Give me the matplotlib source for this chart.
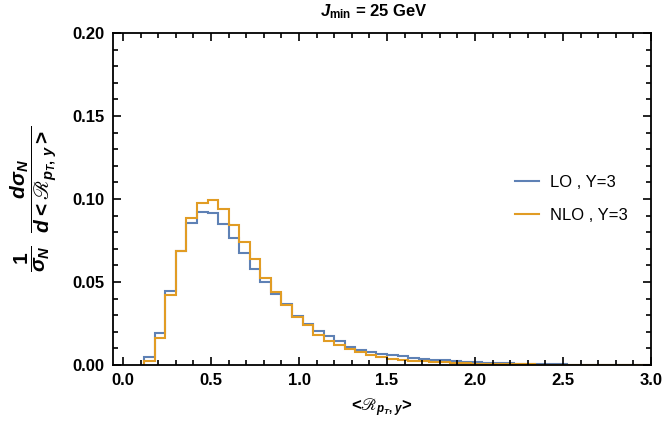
import numpy as np
import matplotlib
matplotlib.use("Agg")
import matplotlib.pyplot as plt
import matplotlib.ticker as ticker

# bin edges: width 0.06, first two bins (0-0.12) empty
BIN_WIDTH = 0.06
BIN_START = 0.12

lo_y3 = [0.0046, 0.0192, 0.0443, 0.0687, 0.0856, 0.0922, 0.0916, 0.0852,
         0.0767, 0.0675, 0.0580, 0.0500, 0.0429, 0.0365, 0.0298, 0.0248,
         0.0203, 0.0173, 0.0143, 0.0110, 0.0090, 0.0080, 0.0068, 0.0062,
         0.0055, 0.0045, 0.0038, 0.0033, 0.0028, 0.0024, 0.0020, 0.0017,
         0.0014, 0.0012, 0.0010, 0.0008, 0.0007, 0.0006, 0.0005, 0.0004,
         0.0003, 0.0003, 0.0002, 0.0002, 0.0001, 0.0001, 0.0001, 0.0001]

nlo_y3 = [0.0024, 0.0161, 0.0423, 0.0687, 0.0884, 0.0977, 0.0992, 0.0939,
          0.0844, 0.0740, 0.0640, 0.0526, 0.0441, 0.0362, 0.0292, 0.0238,
          0.0183, 0.0145, 0.0121, 0.0097, 0.0076, 0.0058, 0.0050, 0.0038,
          0.0032, 0.0026, 0.0022, 0.0019, 0.0016, 0.0013, 0.0011, 0.0009,
          0.0008, 0.0007, 0.0006, 0.0005, 0.0004, 0.0003, 0.0003, 0.0002,
          0.0002, 0.0001, 0.0001, 0.0001, 0.0001, 0.0000, 0.0000, 0.0000]

labels = ["LO , Y=3", "NLO , Y=3"]
colors = ["#5E81B5", "#E19C24"]

plt.rcParams["font.family"] = ["Liberation Sans", "DejaVu Sans"]
plt.rcParams["mathtext.fontset"] = "custom"
plt.rcParams["mathtext.rm"] = "Liberation Sans:bold"
plt.rcParams["mathtext.bf"] = "Liberation Sans:bold"
plt.rcParams["mathtext.it"] = "Liberation Sans:bold:italic"
plt.rcParams["mathtext.sf"] = "Liberation Sans:bold"
plt.rcParams["mathtext.fallback"] = "stix"

fig = plt.figure(figsize=(6.64, 4.26), dpi=100)
ax = fig.add_axes([113 / 664, 61 / 426, 538 / 664, 332 / 426])

edges = BIN_START + BIN_WIDTH * np.arange(len(lo_y3) + 1)
for vals, col, lab in zip([lo_y3, nlo_y3], colors, labels):
    ax.stairs(vals, edges, color=col, linewidth=1.5, label=lab)

ax.set_xlim(-0.057, 3.0)
ax.set_ylim(0, 0.2)
ax.xaxis.set_major_locator(ticker.MultipleLocator(0.5))
ax.xaxis.set_minor_locator(ticker.MultipleLocator(0.1))
ax.yaxis.set_major_locator(ticker.MultipleLocator(0.05))
ax.yaxis.set_minor_locator(ticker.MultipleLocator(0.01))
ax.xaxis.set_major_formatter(ticker.FormatStrFormatter("%.1f"))
ax.yaxis.set_major_formatter(ticker.FormatStrFormatter("%.2f"))
ax.tick_params(which="both", direction="in", top=True, right=True, width=1.2)
ax.tick_params(which="major", length=6, labelsize=12, pad=6)
ax.tick_params(which="minor", length=3.5)
for lbl in ax.get_xticklabels() + ax.get_yticklabels():
    lbl.set_fontweight("bold")
for sp in ax.spines.values():
    sp.set_linewidth(1.3)

ax.set_xlabel(r"<$ℛ_{p_T,y}$>", fontsize=12, fontweight="bold", labelpad=6)
ax.set_ylabel(r"$\dfrac{1}{\sigma_N}\ \ \dfrac{d\sigma_N}{d<ℛ_{p_T,\,y}>}$",
              fontsize=15, labelpad=10)
fig.text(374 / 664, 1 - 12 / 426, r"$J_{\rm min}$ = 25 GeV", fontsize=12,
         fontweight="bold", ha="center", va="center")

leg = ax.legend(loc="center left", bbox_to_anchor=(0.72, 0.50), frameon=False,
                fontsize=12, handlelength=1.4, labelspacing=1.1, handletextpad=0.7)

fig.savefig("out.png", dpi=100)
